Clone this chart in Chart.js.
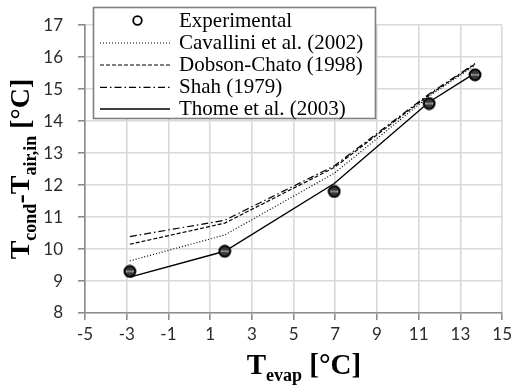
<!DOCTYPE html>
<html>
<head>
<meta charset="utf-8">
<script src="https://cdn.jsdelivr.net/npm/chart.js@4/dist/chart.umd.min.js"></script>
<style>
  html, body { margin: 0; padding: 0; background: #fff; }
  #wrap { width: 516px; height: 385px; position: relative; }
</style>
</head>
<body>
<div id="wrap"><canvas id="c" width="516" height="385"></canvas></div>
<script>
// Evaporating temperature [°C]
const evapTemps = [-2.85, 1.7, 6.95, 11.5, 13.7];
// Condensing minus inlet-air temperature [°C]
const experimental = [9.3, 9.93, 11.8, 14.55, 15.45];
const cavallini = [9.63, 10.44, 12.37, 14.78, 15.75];
const dobsonChato = [10.15, 10.81, 12.55, 14.82, 15.78];
const shah = [10.39, 10.9, 12.6, 14.85, 15.8];
const thome = [9.12, 9.93, 12.05, 14.6, 15.5];

const seriesLabels = ['Experimental', 'Cavallini et al. (2002)', 'Dobson-Chato (1998)', 'Shah (1979)', 'Thome et al. (2003)'];
const xTicks = [-5, -3, -1, 1, 3, 5, 7, 9, 11, 13, 15];
const yTicks = [8, 9, 10, 11, 12, 13, 14, 15, 16, 17];

function pts(ys) { return evapTemps.map((x, i) => ({ x: x, y: ys[i] })); }

// Measured-point symbol: dark circle with a light bar across
function makeMarker() {
  const c = document.createElement('canvas');
  c.width = 14; c.height = 14;
  const g = c.getContext('2d');
  g.beginPath(); g.arc(7, 7, 5.5, 0, Math.PI * 2);
  g.fillStyle = '#383838'; g.fill();
  g.lineWidth = 1.9; g.strokeStyle = '#000'; g.stroke();
  g.strokeStyle = '#c8c8c8'; g.lineWidth = 2;
  g.beginPath(); g.moveTo(3.2, 7); g.lineTo(10.8, 7); g.stroke();
  g.strokeStyle = '#222'; g.lineWidth = 0.8;
  g.beginPath(); g.moveTo(4, 7); g.lineTo(10, 7); g.stroke();
  return c;
}

const lineDashes = [null, [1, 2], [4, 2], [7, 3, 1.5, 3], []];

// Legend box drawn over the plot
const boxLegend = {
  id: 'boxLegend',
  afterDraw(chart) {
    const ctx = chart.ctx;
    const x0 = 93, y0 = 7, w = 282, h = 111;
    ctx.save();
    ctx.fillStyle = '#fff';
    ctx.fillRect(x0, y0, w, h);
    ctx.strokeStyle = '#7f7f7f'; ctx.lineWidth = 1.6;
    ctx.strokeRect(x0 + 0.5, y0 + 0.5, w, h);
    const rows = [20.5, 42.5, 64.5, 86.8, 108.5];
    ctx.font = '21px "Liberation Serif", "Times New Roman", serif';
    ctx.textBaseline = 'middle';
    chart.data.datasets.forEach((ds, i) => {
      const y = rows[i];
      ctx.strokeStyle = '#000';
      if (i === 0) {
        ctx.setLineDash([]);
        ctx.lineWidth = 1.8;
        ctx.beginPath(); ctx.arc(137.5, y, 4.3, 0, Math.PI * 2); ctx.stroke();
      } else {
        ctx.setLineDash(ds.borderDash || []);
        ctx.lineWidth = ds.borderWidth;
        ctx.beginPath(); ctx.moveTo(100, y + 0.5); ctx.lineTo(170, y + 0.5); ctx.stroke();
      }
      ctx.setLineDash([]);
      ctx.fillStyle = '#000';
      ctx.fillText(ds.label, 179, y + 1);
    });
    ctx.restore();
  }
};

// Axis titles with subscripts
function drawRich(ctx, parts, bigFont, subFont) {
  let total = 0;
  parts.forEach(p => { ctx.font = p.sub ? subFont : bigFont; p.w = ctx.measureText(p.t).width; total += p.w; });
  let x = -total / 2;
  parts.forEach(p => {
    ctx.font = p.sub ? subFont : bigFont;
    ctx.fillText(p.t, x, p.sub ? 7 : 0);
    x += p.w;
  });
}
const axisTitles = {
  id: 'axisTitles',
  afterDraw(chart) {
    const ctx = chart.ctx;
    const big = 'bold 29px "Liberation Serif", "Times New Roman", serif';
    const sub = 'bold 18px "Liberation Serif", "Times New Roman", serif';
    const bigY = 'bold 28px "Liberation Serif", "Times New Roman", serif';
    const subY = 'bold 18px "Liberation Serif", "Times New Roman", serif';
    ctx.save();
    ctx.fillStyle = '#000';
    ctx.textBaseline = 'alphabetic';
    ctx.translate(304, 374);
    drawRich(ctx, [{ t: 'T' }, { t: 'evap', sub: true }, { t: ' [°C]' }], big, sub);
    ctx.restore();
    ctx.save();
    ctx.fillStyle = '#000';
    ctx.translate(29, 169);
    ctx.rotate(-Math.PI / 2);
    drawRich(ctx, [{ t: 'T' }, { t: 'cond', sub: true }, { t: '-' }, { t: 'T' }, { t: 'air,in', sub: true }, { t: ' [°C]' }], bigY, subY);
    ctx.restore();
  }
};

const modelSets = [cavallini, dobsonChato, shah, thome];

new Chart(document.getElementById('c'), {
  type: 'scatter',
  data: {
    datasets: [
      {
        label: seriesLabels[0],
        data: pts(experimental),
        showLine: false,
        pointStyle: makeMarker(),
        pointRadius: 6,
        pointHoverRadius: 6
      },
      ...modelSets.map((ys, k) => ({
        label: seriesLabels[k + 1],
        data: pts(ys),
        showLine: true,
        borderColor: '#000',
        borderWidth: k === 3 ? 1.4 : 1.2,
        borderDash: lineDashes[k + 1],
        pointRadius: 0,
        pointHoverRadius: 0,
        tension: 0,
        fill: false
      }))
    ]
  },
  options: {
    responsive: false,
    animation: false,
    events: [],
    layout: { padding: { left: 0, right: 11, top: 25, bottom: 0 } },
    plugins: {
      legend: { display: false },
      tooltip: { enabled: false }
    },
    scales: {
      x: {
        type: 'linear',
        min: -5, max: 15,
        afterBuildTicks: s => { s.ticks = xTicks.map(v => ({ value: v })); },
        afterFit: s => { s.height = 72; },
        grid: { color: '#d9d9d9', lineWidth: 1.6, tickColor: '#8c8c8c', tickLength: 7, drawTicks: true },
        border: { color: '#8c8c8c', width: 1.6 },
        ticks: { color: '#2b2b2b', font: { family: 'Lato, "Open Sans", sans-serif', size: 17 }, padding: 4, maxRotation: 0, autoSkip: false }
      },
      y: {
        type: 'linear',
        min: 8, max: 17,
        afterBuildTicks: s => { s.ticks = yTicks.map(v => ({ value: v })); },
        afterFit: s => { s.width = 85; },
        grid: { color: '#d9d9d9', lineWidth: 1.6, tickColor: '#8c8c8c', tickLength: 7, drawTicks: true },
        border: { color: '#8c8c8c', width: 1.6 },
        ticks: { color: '#2b2b2b', font: { family: 'Lato, "Open Sans", sans-serif', size: 17 }, padding: 15, autoSkip: false }
      }
    }
  },
  plugins: [axisTitles, boxLegend]
});
</script>
</body>
</html>
